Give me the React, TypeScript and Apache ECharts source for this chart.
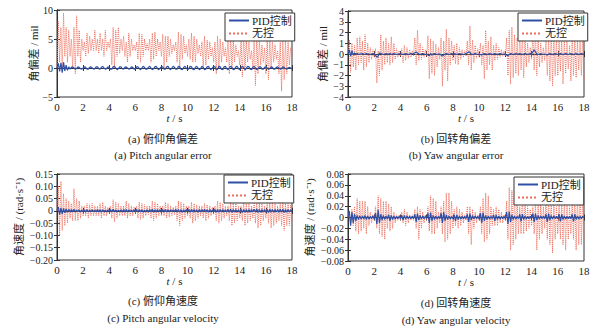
import React, { useEffect, useRef } from "react";
import * as echarts from "echarts";

const SERIF = "'Liberation Serif', 'Times New Roman', 'Noto Sans CJK SC', serif";
const NAME_PID = "PID控制";
const NAME_NONE = "无控";

const step = 0.1;

const redA = [0,8,1,7,0,9.5,2,7,1,6.5,2,
5,0,7,-1,9,2,6.5,1,5,3,
4.5,2,6,2.5,5.5,3,5,3,6.5,3,
5,2.5,6,3,5,2,6.5,3,4.5,3.5,
5,0.5,7,0,6.5,2,7,2.5,5,3,
5.5,2,4.5,1,6,2,5,3,4,3,
4.5,1.5,6,1,5.8,2,5,3,4.2,3,
5,1,6,1.5,6.2,2,5,3,4.5,2,
5.8,0,5.5,1,5.5,2,5,2.5,4,3,
4.5,1,6.2,0,5.8,1.5,5.5,2.5,4,2,
5,1.5,6,1,5.5,1,5,2.5,4,2,
4.5,0,5.5,0.5,4.8,1.5,4.5,2,3.5,1,
4.5,-1,5.5,0,5,1,4.5,2,3.5,1,
5,-1,5.5,0,5,1,4,2,3,0.5,
5,-1.5,5.5,-0.5,5,1,4.5,1.5,3,0,
5,-3,5.5,-1,5,0.5,4,1,3.5,-1,
5,-2,5,0,4.5,1,4,1.5,3,-1,
4.5,-4,5,-2,5,-1,4.5,0.5,3.5,2];

const blueA = [0,0.8,-0.6,0.9,-0.8,1.0,-0.5,0.5,-0.4,0.2,-0.2,
0.1,0.2,0,-0.2,-0.1,0.2,0.1,-0.1,-0.2,0,
0.2,0.1,-0.2,-0.2,0.1,0.2,0,-0.2,-0.1,0.2,
0.2,-0.1,-0.2,0.1,0.3,0,-0.2,-0.1,0.2,0.1,
-0.2,-0.2,0.2,0.3,0,-0.3,-0.1,0.2,0.2,-0.1,
-0.2,0.1,0.2,0,-0.2,-0.1,0.2,0.1,-0.2,-0.1,
0.2,0.2,-0.1,-0.3,0,0.3,0.1,-0.2,-0.2,0.1,
0.3,0,-0.3,-0.1,0.2,0.3,-0.1,-0.3,0,0.2,
0.2,-0.2,-0.2,0.2,0.3,-0.1,-0.3,0,0.3,0.1,
-0.2,-0.2,0.3,0.2,-0.2,-0.3,0.1,0.3,0,-0.3,
-0.1,0.3,0.2,-0.2,-0.3,0.1,0.3,0,-0.3,-0.1,
0.3,0.1,-0.3,-0.2,0.2,0.3,-0.1,-0.3,0,0.3,
0.2,-0.3,-0.2,0.3,0.2,-0.2,-0.3,0.2,0.3,-0.1,
-0.3,0,0.3,0.1,-0.3,-0.2,0.2,0.3,-0.1,-0.3,
0,0.3,0.1,-0.3,-0.1,0.3,0.2,-0.2,-0.3,0.1,
0.3,0,-0.3,-0.1,0.2,0.2,-0.2,-0.2,0.1,0.2,
0,-0.2,-0.1,0.2,0.1,-0.2,-0.2,0.1,0.2,0,
-0.2,-0.1,0.2,0.1,-0.1,-0.2,0,0.1,0,-0.1];

const redB = [0,1.3,-1.7,1.0,-1.2,0.8,-1.5,1.5,-1.0,1.6,-0.8,
1.2,-1.5,1.8,-1.2,1.0,-0.8,0.6,-0.5,0.4,-0.3,
0.5,-2.7,0.3,-2.0,1.8,-1.5,1.2,-1.0,1.5,-0.8,
1.0,-1.0,1.6,-0.8,1.0,-0.5,0.5,-0.3,0.3,-0.2,
0.5,-0.8,0.8,-0.6,0.6,-0.4,0.4,-0.3,0.3,-0.2,
1.5,-1.0,2.2,-0.6,1.0,-0.5,0.6,-0.3,0.4,-0.2,
1.7,-2.3,1.4,-1.8,1.2,-2.0,0.9,-1.2,0.6,-0.5,
1.5,-3.0,1.2,-1.5,2.3,-2.5,1.5,-1.0,1.2,-0.6,
0.8,-0.9,1.0,-1.0,0.6,-0.5,0.4,-0.3,0.3,-0.2,
1.2,-1.0,2.6,-1.5,1.3,-0.8,0.8,-0.4,0.5,-0.3,
1.0,-1.0,0.8,-2.3,2.2,-1.5,1.2,-1.0,1.6,-1.5,
0.8,-0.6,1.0,-0.5,0.6,-0.3,0.4,-0.2,0.3,-0.2,
1.5,-2.0,2.2,-2.8,2.5,-2.2,1.8,-1.8,1.5,-2.0,
2.0,-1.5,1.8,-2.2,1.5,-1.2,1.0,-0.8,0.6,-0.5,
1.8,-1.5,2.2,-2.0,1.5,-1.2,1.0,-0.8,0.6,-0.6,
1.2,-2.0,1.5,-2.5,2.5,-3.0,1.8,-2.0,1.5,-2.0,
1.2,-1.6,1.5,-2.8,1.6,-1.8,1.2,-1.4,0.8,-2.5,
2.0,-2.0,1.5,-2.2,1.2,-1.5,1.4,-2.0,2.0,-2.5];

const blueB = [0,0.4,-0.2,0.3,-0.1,0.1,0,0.05,-0.05,0,0,
0.05,0,-0.05,0.05,0,0,-0.05,0,0.05,0,
-0.1,-0.3,-0.2,0.1,0.05,0,-0.05,0,0.05,0,
0,0.05,-0.05,0,0.05,0,-0.05,0,0,0.05,
0,-0.05,0,0.05,0,-0.05,0,0.05,0,0.05,
0.1,0.2,0.1,0,-0.05,0,0.05,0,-0.05,0,
-0.1,-0.15,0.05,-0.1,0,0.05,0,-0.05,0,0,
-0.1,-0.2,-0.1,0,0.05,0,-0.05,0,0.05,0,
0.05,0,-0.05,0,0.05,0,0,-0.05,0,0.05,
0.1,0.2,0.15,0,-0.05,0,0.05,0,-0.05,0,
-0.05,-0.1,0,0.05,0,-0.05,0,0.05,0,-0.05,
0,0.05,0,-0.05,0,0.05,0,-0.05,0,0,
-0.1,-0.15,-0.05,0.05,0,-0.05,0,0.05,0,0,
0.05,0,-0.05,0,0.05,0,-0.05,0,0.05,0,
0.2,0.4,0.2,0,-0.05,0,0.05,0,-0.05,0,
-0.05,-0.1,0,0.05,0,-0.05,0,0.05,0,-0.05,
0,0.05,0,-0.05,0,0.05,0,-0.05,0,0.05,
0,-0.05,0,0.05,0,-0.05,0,0.05,0,0];

const redC = [0,0.1,-0.1,0.12,-0.08,0.07,-0.06,0.05,-0.05,0.04,-0.03,
0.03,-0.04,0.09,-0.04,0.05,-0.04,0.04,-0.03,0.02,-0.02,
0.02,-0.02,0.03,-0.03,0.025,-0.02,0.03,-0.02,0.02,-0.02,
0.02,-0.02,0.03,-0.03,0.035,-0.02,0.02,-0.02,0.015,-0.01,
0.02,-0.03,0.045,-0.045,0.035,-0.03,0.03,-0.02,0.02,-0.02,
0.02,-0.02,0.04,-0.03,0.03,-0.02,0.02,-0.02,0.015,-0.01,
0.02,-0.03,0.035,-0.035,0.03,-0.03,0.025,-0.02,0.02,-0.015,
0.02,-0.03,0.04,-0.04,0.035,-0.03,0.03,-0.02,0.02,-0.02,
0.02,-0.02,0.035,-0.03,0.03,-0.025,0.02,-0.02,0.015,-0.015,
0.02,-0.04,0.04,-0.06,0.035,-0.04,0.03,-0.03,0.02,-0.02,
0.02,-0.03,0.035,-0.05,0.03,-0.04,0.025,-0.03,0.02,-0.02,
0.02,-0.03,0.03,-0.04,0.025,-0.03,0.02,-0.02,0.015,-0.015,
0.02,-0.04,0.04,-0.05,0.035,-0.04,0.03,-0.03,0.02,-0.02,
0.02,-0.04,0.04,-0.06,0.035,-0.05,0.03,-0.04,0.02,-0.03,
0.02,-0.04,0.04,-0.06,0.035,-0.05,0.03,-0.04,0.02,-0.03,
0.03,-0.05,0.045,-0.07,0.04,-0.06,0.03,-0.04,0.02,-0.03,
0.03,-0.05,0.04,-0.07,0.035,-0.06,0.03,-0.05,0.02,-0.04,
0.03,-0.06,0.04,-0.08,0.035,-0.06,0.03,-0.06,0.025,-0.04];

const blueC = [0,0.015,-0.015,0.012,-0.012,0.01,-0.008,0.008,-0.006,0.006,-0.005,
0.005,-0.004,0.006,-0.005,0.003,-0.003,0.004,-0.004,0.003,-0.003,
0.004,-0.005,0.004,-0.004,0.003,-0.003,0.004,-0.003,0.003,-0.004,
0.005,-0.004,0.004,-0.005,0.004,-0.003,0.003,-0.004,0.004,-0.003,
0.005,-0.005,0.006,-0.004,0.004,-0.004,0.003,-0.003,0.004,-0.004,
0.005,-0.004,0.005,-0.005,0.004,-0.003,0.003,-0.004,0.004,-0.003,
0.005,-0.005,0.005,-0.004,0.004,-0.005,0.003,-0.003,0.004,-0.004,
0.005,-0.005,0.006,-0.005,0.004,-0.004,0.005,-0.003,0.004,-0.004,
0.005,-0.004,0.005,-0.005,0.004,-0.004,0.004,-0.003,0.004,-0.004,
0.006,-0.005,0.005,-0.006,0.004,-0.005,0.004,-0.004,0.005,-0.004,
0.005,-0.006,0.006,-0.005,0.005,-0.004,0.004,-0.005,0.005,-0.004,
0.005,-0.005,0.006,-0.005,0.004,-0.005,0.005,-0.004,0.004,-0.005,
0.006,-0.006,0.006,-0.006,0.005,-0.005,0.005,-0.004,0.004,-0.005,
0.006,-0.006,0.007,-0.006,0.005,-0.005,0.005,-0.005,0.004,-0.005,
0.006,-0.007,0.006,-0.006,0.005,-0.006,0.005,-0.005,0.005,-0.005,
0.007,-0.006,0.008,-0.007,0.006,-0.006,0.005,-0.005,0.005,-0.006,
0.006,-0.007,0.007,-0.006,0.006,-0.006,0.005,-0.005,0.005,-0.006,
0.007,-0.006,0.007,-0.007,0.006,-0.006,0.005,-0.005,0.004,-0.003];

const redD = [0,0.01,-0.01,0.015,-0.015,0.02,-0.025,0.035,-0.03,0.03,-0.025,
0.03,-0.02,0.03,-0.03,0.02,-0.015,0.01,-0.01,0.005,-0.005,
0.02,-0.02,0.04,-0.03,0.035,-0.035,0.03,-0.04,0.03,-0.02,
0.025,-0.025,0.02,-0.02,0.01,-0.01,0.005,-0.005,0.005,-0.005,
0.01,-0.01,0.015,-0.015,0.01,-0.01,0.005,-0.005,0.005,-0.005,
0.015,-0.02,0.02,-0.04,0.015,-0.02,0.01,-0.01,0.005,-0.005,
0.02,-0.025,0.04,-0.03,0.035,-0.03,0.03,-0.02,0.01,-0.01,
0.02,-0.03,0.03,-0.045,0.045,-0.04,0.045,-0.03,0.03,-0.02,
0.015,-0.015,0.02,-0.02,0.015,-0.015,0.01,-0.01,0.005,-0.005,
0.02,-0.03,0.02,-0.05,0.015,-0.02,0.01,-0.01,0.005,-0.005,
0.02,-0.03,0.035,-0.045,0.045,-0.04,0.04,-0.03,0.02,-0.015,
0.015,-0.015,0.02,-0.015,0.015,-0.01,0.01,-0.01,0.005,-0.005,
0.03,-0.04,0.055,-0.06,0.05,-0.05,0.05,-0.04,0.03,-0.03,
0.02,-0.03,0.04,-0.03,0.03,-0.025,0.02,-0.02,0.015,-0.015,
0.02,-0.03,0.03,-0.06,0.03,-0.04,0.025,-0.03,0.02,-0.02,
0.03,-0.04,0.04,-0.05,0.04,-0.065,0.035,-0.04,0.02,-0.03,
0.025,-0.04,0.03,-0.05,0.035,-0.06,0.03,-0.04,0.02,-0.03,
0.03,-0.04,0.04,-0.06,0.045,-0.05,0.05,-0.05,0.04,-0.04];

const blueD = [0,0.012,-0.015,0.01,-0.01,0.006,-0.006,0.004,-0.004,0.003,-0.003,
0.003,-0.003,0.004,-0.004,0.003,-0.003,0.002,-0.002,0.003,-0.003,
0.008,-0.012,0.014,-0.01,0.006,-0.005,0.004,-0.004,0.003,-0.003,
0.005,-0.006,0.004,-0.004,0.003,-0.003,0.002,-0.002,0.002,-0.002,
0.004,-0.005,0.004,-0.003,0.003,-0.002,0.002,-0.002,0.002,-0.002,
0.006,-0.008,0.007,-0.005,0.004,-0.003,0.003,-0.002,0.002,-0.002,
0.008,-0.01,0.009,-0.006,0.004,-0.004,0.003,-0.003,0.002,-0.002,
0.008,-0.01,0.01,-0.006,0.005,-0.004,0.003,-0.003,0.002,-0.002,
0.005,-0.006,0.005,-0.004,0.003,-0.003,0.002,-0.002,0.002,-0.002,
0.006,-0.008,0.007,-0.005,0.004,-0.003,0.003,-0.002,0.002,-0.002,
0.008,-0.01,0.009,-0.006,0.004,-0.004,0.003,-0.003,0.002,-0.002,
0.005,-0.006,0.005,-0.004,0.003,-0.003,0.002,-0.002,0.002,-0.002,
0.01,-0.012,0.011,-0.008,0.005,-0.004,0.003,-0.003,0.002,-0.002,
0.006,-0.007,0.006,-0.004,0.003,-0.003,0.002,-0.002,0.002,-0.002,
0.007,-0.008,0.007,-0.005,0.004,-0.003,0.003,-0.002,0.002,-0.002,
0.006,-0.008,0.007,-0.005,0.004,-0.003,0.003,-0.002,0.002,-0.002,
0.006,-0.007,0.006,-0.004,0.003,-0.003,0.002,-0.002,0.002,-0.002,
0.006,-0.007,0.006,-0.004,0.003,-0.003,0.002,-0.002,0.002,0];

const panels = [
  { red: redA, blue: blueA, yMin: -5, yMax: 10, yInt: 5, dec: 0, yName: "角偏差 / mil", nameX: 34,
    grid: { left: 57, top: 10, width: 235, height: 87 }, legend: { left: 225, top: 13 },
    capCn: "(a) 俯仰角偏差", capEn: "(a) Pitch angular error", capX: 163, capY1: 139, capY2: 155 },
  { red: redB, blue: blueB, yMin: -4, yMax: 4, yInt: 1, dec: 0, yName: "角偏差 / mil", nameX: 323,
    grid: { left: 348, top: 11, width: 236, height: 86 }, legend: { left: 518, top: 13 },
    capCn: "(b) 回转角偏差", capEn: "(b) Yaw angular error", capX: 456, capY1: 139, capY2: 155 },
  { red: redC, blue: blueC, yMin: -0.2, yMax: 0.15, yInt: 0.05, dec: 2, yName: "角速度 / (rad·s⁻¹)", nameX: 19,
    grid: { left: 57, top: 174, width: 235, height: 86 }, legend: { left: 224, top: 175 },
    capCn: "(c) 俯仰角速度", capEn: "(c) Pitch angular velocity", capX: 163, capY1: 301, capY2: 318 },
  { red: redD, blue: blueD, yMin: -0.08, yMax: 0.08, yInt: 0.02, dec: 2, yName: "角速度 / (rad·s⁻¹)", nameX: 310,
    grid: { left: 348, top: 174, width: 236, height: 87 }, legend: { left: 514, top: 177 },
    capCn: "(d) 回转角速度", capEn: "(d) Yaw angular velocity", capX: 456, capY1: 303, capY2: 320 },
];

const fmt = (v: number, dec: number) => {
  if (Math.abs(v) < 1e-9) return "0";
  const s = dec ? v.toFixed(dec) : String(Math.round(v));
  return s.replace("-", "−");
};

export default function App() {
  const ref = useRef<HTMLDivElement>(null);
  useEffect(() => {
    if (!ref.current) return;
    const chart = echarts.init(ref.current, undefined, { renderer: "svg" });
    const axisColor = "#333";
    const grids: any[] = [];
    const xAxes: any[] = [];
    const yAxes: any[] = [];
    const series: any[] = [];
    const legends: any[] = [];
    const graphics: any[] = [];
    panels.forEach((p, i) => {
      grids.push({ ...p.grid, show: true, borderColor: axisColor, borderWidth: 1, backgroundColor: "#fff" });
      const xBase = {
        type: "value", gridIndex: i, min: 0, max: 18, interval: 2,
        axisLine: { show: true, lineStyle: { color: axisColor } },
        axisTick: { show: true, inside: true, length: 3, lineStyle: { color: axisColor } },
        splitLine: { show: false },
      };
      xAxes.push({
        ...xBase, position: "bottom",
        axisLabel: { margin: 4, color: "#222", fontSize: 11, fontFamily: SERIF, showMinLabel: true, showMaxLabel: true, hideOverlap: false },
        name: "{i|t} / s", nameLocation: "middle", nameGap: 15,
        nameTextStyle: { color: "#222", fontSize: 11, fontFamily: SERIF, rich: { i: { fontStyle: "italic", fontSize: 11, fontFamily: SERIF, color: "#222" } } },
      });
      xAxes.push({ ...xBase, position: "top", axisLabel: { show: false } });
      const yBase = {
        type: "value", gridIndex: i, min: p.yMin, max: p.yMax, interval: p.yInt,
        axisLine: { show: true, lineStyle: { color: axisColor } },
        axisTick: { show: true, inside: true, length: 3, lineStyle: { color: axisColor } },
        splitLine: { show: false },
      };
      yAxes.push({
        ...yBase, position: "left",
        axisLabel: { margin: 4, color: "#222", fontSize: 10, lineHeight: 10, fontFamily: SERIF, showMinLabel: true, showMaxLabel: true, hideOverlap: false, formatter: (v: number) => fmt(v, p.dec) },
      });
      yAxes.push({ ...yBase, position: "right", axisLabel: { show: false } });
      series.push({
        type: "line", name: NAME_NONE, xAxisIndex: i * 2, yAxisIndex: i * 2,
        data: p.red.map((v, k) => [k * step, v]), symbol: "none", silent: true,
        lineStyle: { color: "#ec6f5e", width: 1, type: "dotted" }, itemStyle: { color: "#ec6f5e" }, z: 2,
      });
      series.push({
        type: "line", name: NAME_PID, xAxisIndex: i * 2, yAxisIndex: i * 2,
        data: p.blue.map((v, k) => [k * step, v]), symbol: "none", silent: true,
        lineStyle: { color: "#2f50a6", width: 1.2 }, itemStyle: { color: "#2f50a6" }, z: 3,
      });
      legends.push({
        data: [NAME_PID, NAME_NONE], orient: "vertical", left: p.legend.left, top: p.legend.top,
        itemWidth: 20, itemHeight: 8, itemGap: 2, padding: [2, 3, 2, 3],
        borderColor: axisColor, borderWidth: 1, backgroundColor: "#fff", selectedMode: false,
        itemStyle: { opacity: 0 },
        textStyle: { fontSize: 11, fontFamily: SERIF, color: "#222", padding: [0, 0, 0, -2] },
      });
      const midY = p.grid.top + p.grid.height / 2;
      graphics.push({ type: "text", x: p.nameX, y: midY, rotation: Math.PI / 2, style: { text: p.yName, fill: "#222", font: `11px ${SERIF}`, textAlign: "center", textVerticalAlign: "middle" } });
      graphics.push({ type: "text", x: p.capX, y: p.capY1, style: { text: p.capCn, fill: "#222", font: `11px ${SERIF}`, textAlign: "center", textVerticalAlign: "middle" } });
      graphics.push({ type: "text", x: p.capX, y: p.capY2, style: { text: p.capEn, fill: "#222", font: `11px ${SERIF}`, textAlign: "center", textVerticalAlign: "middle" } });
    });
    chart.setOption({
      animation: false,
      backgroundColor: "#fff",
      grid: grids, xAxis: xAxes, yAxis: yAxes, series, legend: legends, graphic: graphics,
    });
    return () => chart.dispose();
  }, []);
  return <div ref={ref} style={{ position: "fixed", left: 0, top: 0, width: 602, height: 331 }} />;
}
